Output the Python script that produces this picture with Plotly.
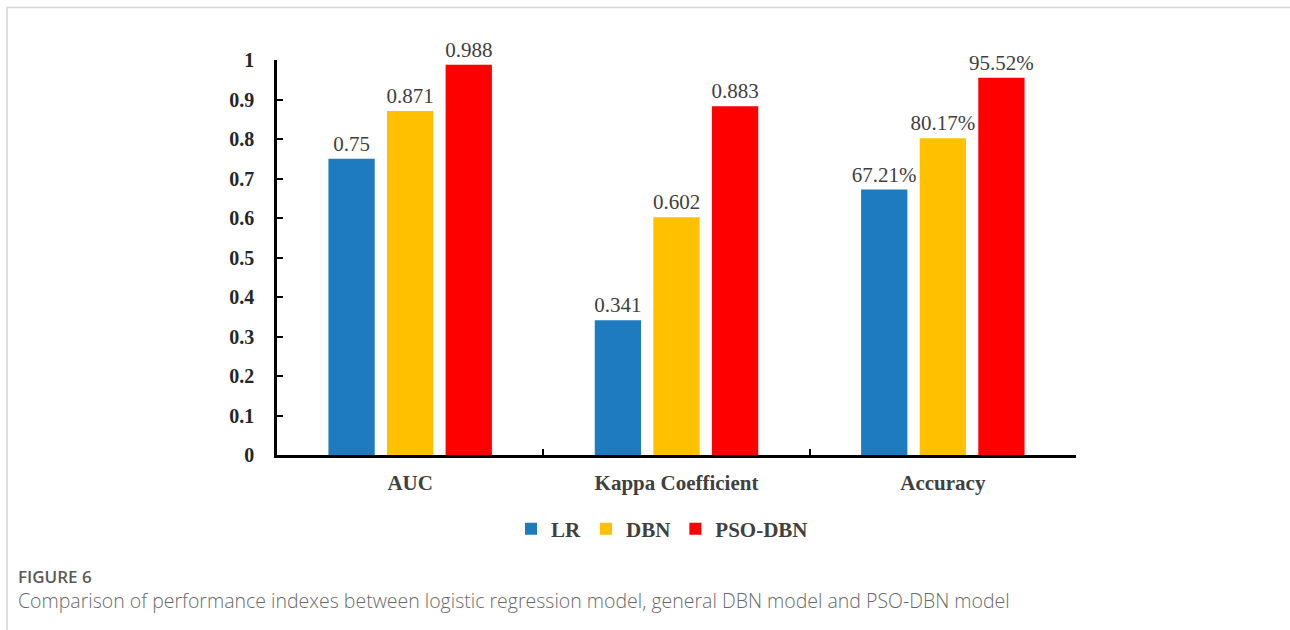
import plotly.graph_objects as go

# Performance indexes per model
categories = ["AUC", "Kappa Coefficient", "Accuracy"]
models = ["LR", "DBN", "PSO-DBN"]
lr_values = [0.75, 0.341, 0.6721]
dbn_values = [0.871, 0.602, 0.8017]
pso_dbn_values = [0.988, 0.883, 0.9552]
y_ticks = [0, 0.1, 0.2, 0.3, 0.4, 0.5, 0.6, 0.7, 0.8, 0.9, 1]

colors = ["#1f7bbf", "#ffc000", "#ff0000"]
series = [lr_values, dbn_values, pso_dbn_values]

W, H = 1290, 630
L, R, T, B = 277, W - 1076, 60, H - 455
plot_w, plot_h = W - L - R, H - T - B


def px_x(px):
    return (px - L) / plot_w


def px_y(py):
    return (H - B - py) / plot_h


def label(cat, v):
    # accuracy is reported as a percentage, the others as plain numbers
    if cat == "Accuracy":
        return f"{v * 100:.2f}%"
    return f"{v:g}"


serif = "Liberation Serif, Times New Roman, serif"
sans = "Open Sans, Lato, sans-serif"

fig = go.Figure()
for name, vals, col in zip(models, series, colors):
    fig.add_trace(go.Bar(
        x=categories,
        y=vals,
        name=name,
        marker=dict(color=col, line=dict(width=0)),
        text=[label(c, v) for c, v in zip(categories, vals)],
        textposition="outside",
        constraintext="none",
        textfont=dict(family=serif, size=21, color="#404040"),
        cliponaxis=False,
    ))

fig.update_layout(
    width=W, height=H,
    margin=dict(l=L, r=R, t=T, b=B),
    paper_bgcolor="white",
    plot_bgcolor="white",
    barmode="group",
    bargap=0.34,
    bargroupgap=0.21,
    showlegend=True,
    legend=dict(
        orientation="h",
        x=px_x(662), xanchor="center",
        y=px_y(529), yanchor="middle",
        font=dict(family=serif, size=21, color="#404040", weight="bold"),
        itemwidth=30,
        tracegroupgap=0,
        bgcolor="rgba(0,0,0,0)",
    ),
    xaxis=dict(
        type="category",
        showgrid=False,
        showline=True, linecolor="black", linewidth=2.5,
        ticks="inside", tickson="boundaries", ticklen=6, tickwidth=2, tickcolor="black",
        tickfont=dict(family=serif, size=21, color="#404040", weight="bold"),
        ticklabelstandoff=7,
        zeroline=False,
        fixedrange=True,
    ),
    yaxis=dict(
        range=[0, 1],
        tickvals=y_ticks,
        ticktext=[f"{t:g}" for t in y_ticks],
        showgrid=False,
        showline=True, linecolor="black", linewidth=2.5,
        ticks="inside", ticklen=6, tickwidth=2, tickcolor="black",
        tickfont=dict(family=serif, size=20, color="#262626", weight="bold"),
        ticklabelstandoff=16,
        zeroline=False,
        fixedrange=True,
    ),
    shapes=[
        dict(type="rect", xref="paper", yref="paper",
             x0=px_x(7), x1=px_x(1300), y0=px_y(7.5), y1=px_y(650),
             line=dict(color="#d6d6d6", width=1.5), fillcolor="rgba(0,0,0,0)",
             layer="below"),
    ],
    annotations=[
        dict(text="FIGURE 6", xref="paper", yref="paper",
             x=px_x(16), y=px_y(576), xanchor="left", yanchor="middle",
             showarrow=False,
             font=dict(family=sans, size=17, color="#5a5a5a", weight=600)),
        dict(text="Comparison of performance indexes between logistic regression model, general DBN model and PSO-DBN model",
             xref="paper", yref="paper",
             x=px_x(16), y=px_y(600), xanchor="left", yanchor="middle",
             showarrow=False,
             font=dict(family=sans, size=19.5, color="#6a6a6a", weight=300)),
    ],
)

fig.write_html("out.html")
